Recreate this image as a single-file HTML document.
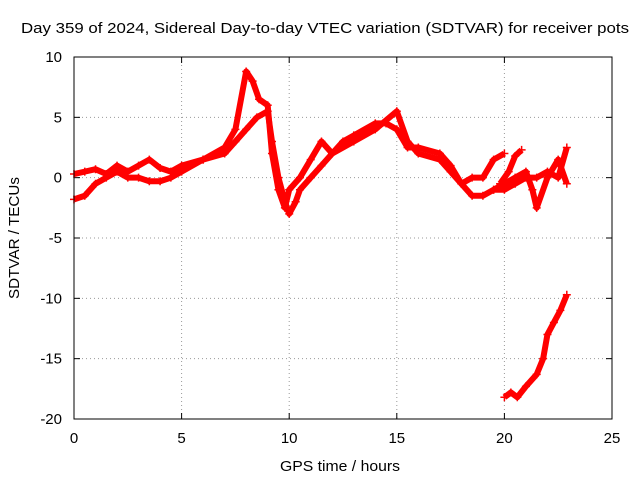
<!DOCTYPE html>
<html><head><meta charset="utf-8"><style>
body{margin:0;background:#fff;}
svg{display:block;font-family:"Liberation Sans",sans-serif;}
</style></head><body>
<svg id="chart" width="640" height="480">
<text x="325" y="33" text-anchor="middle" font-size="15" textLength="608" lengthAdjust="spacingAndGlyphs">Day 359 of 2024, Sidereal Day-to-day VTEC variation (SDTVAR) for receiver pots</text>
<text x="340" y="471" text-anchor="middle" font-size="15" textLength="120" lengthAdjust="spacingAndGlyphs">GPS time / hours</text>
<text transform="translate(19,238) rotate(-90)" text-anchor="middle" font-size="15" textLength="122" lengthAdjust="spacingAndGlyphs">SDTVAR / TECUs</text>
<g id="grid"></g><g id="axes"></g><g id="marks"></g>
<rect x="74" y="57" width="538" height="362" fill="none" stroke="#000" stroke-width="1"/>
</svg>
<script>
const xTicks=[0,5,10,15,20,25];
const yTicks=[10,5,0,-5,-10,-15,-20];
const seriesAx=[0,0.5,1,1.5,2,2.5,3,3.5,4,4.5,5,6,7,7.5,8,8.5,9,9.2,9.5,9.8,10,10.3,10.5,11,11.5,12,13,14,15,15.5,16,17,17.5,18,18.5,19,19.5,20,20.5,21,21.3,21.5,22,22.5,22.9];
const seriesAy=[-1.8,-1.5,-0.5,0,0.5,0,0,-0.3,-0.3,0,0.5,1.5,2,3,4,5,5.5,3,0,-2,-3,-2,-1,0,1,2,3,4,5.5,3,2,1.5,0.5,-0.5,-1.5,-1.5,-1,-0.5,0,0.5,-1,-2.5,0,1.5,-0.5];
const seriesBx=[0,0.5,1,1.5,2,2.5,3,3.5,4,4.5,5,6,7,7.5,8,8.3,8.6,9,9.2,9.5,9.8,10,10.5,11,11.5,12,12.5,13,14,14.5,15,15.5,16,17,17.5,18,18.5,19,19.5,20];
const seriesBy=[0.3,0.5,0.7,0.3,1,0.5,1,1.5,0.8,0.5,1,1.5,2.5,4,8.8,8,6.5,6,2,-1,-2.5,-1,0,1.5,3,2,3,3.5,4.5,4.5,4,2.5,2.5,2,1,-0.5,0,0,1.5,2];
const seriesCx=[19.5,20,20.5,21,21.5,22,22.5,22.9];
const seriesCy=[-1,-1,-0.5,0,0,0.5,0,2.5];
const seriesDx=[20,20.3,20.6,21,21.5,21.8,22,22.3,22.6,22.9];
const seriesDy=[-18.2,-17.8,-18.2,-17.3,-16.3,-15,-13,-12,-11,-9.7];
const seriesEx=[19.8,20.2,20.5,20.8];
const seriesEy=[-0.5,0.5,1.8,2.3];
const X=v=>74+v*(538/25), Y=v=>57+(10-v)*(362/30);
const NS="http://www.w3.org/2000/svg";
const g=document.getElementById('grid'), ax=document.getElementById('axes'), m=document.getElementById('marks');
function mk(t,a,p){const e=document.createElementNS(NS,t);for(const k in a)e.setAttribute(k,a[k]);p.appendChild(e);return e;}
xTicks.forEach(t=>{
  if(t>0&&t<25){const l=mk('line',{x1:X(t),x2:X(t),y1:57,y2:419,stroke:'#999','stroke-dasharray':'1,3'},g);
  
  }
  mk('line',{x1:X(t),x2:X(t),y1:419,y2:413,stroke:'#000'},ax);
  mk('line',{x1:X(t),x2:X(t),y1:57,y2:63,stroke:'#000'},ax);
  const tx=mk('text',{x:X(t),y:443,'text-anchor':'middle','font-size':15},ax);tx.textContent=t;
  
  
});
yTicks.forEach(t=>{
  if(t>-20&&t<10){const l=mk('line',{x1:74,x2:612,y1:Y(t),y2:Y(t),stroke:'#999','stroke-dasharray':'1,3'},g);
  
  }
  mk('line',{x1:74,x2:80,y1:Y(t),y2:Y(t),stroke:'#000'},ax);
  mk('line',{x1:606,x2:612,y1:Y(t),y2:Y(t),stroke:'#000'},ax);
  const tx=mk('text',{x:62,y:Y(t)+5,'text-anchor':'end','font-size':15},ax);tx.textContent=t;
  
  
});
function series(xs,ys,name){
  const grp=mk('g',{},m);
  
  
  mk('polyline',{points:xs.map((x,i)=>X(x)+','+Y(ys[i])).join(' '),fill:'none',stroke:'#f00','stroke-width':6,'stroke-linejoin':'round'},grp);
  xs.forEach((x,i)=>{const cx=X(x),cy=Y(ys[i]);
    const p=mk('path',{d:`M${cx-4},${cy}H${cx+4}M${cx},${cy-4}V${cy+4}`,stroke:'#f00','stroke-width':1.5},grp);
    
    });
}
series(seriesAx,seriesAy,'series-a');
series(seriesBx,seriesBy,'series-b');
series(seriesCx,seriesCy,'series-c');
series(seriesDx,seriesDy,'series-d');
series(seriesEx,seriesEy,'series-e');
</script>
</body></html>
